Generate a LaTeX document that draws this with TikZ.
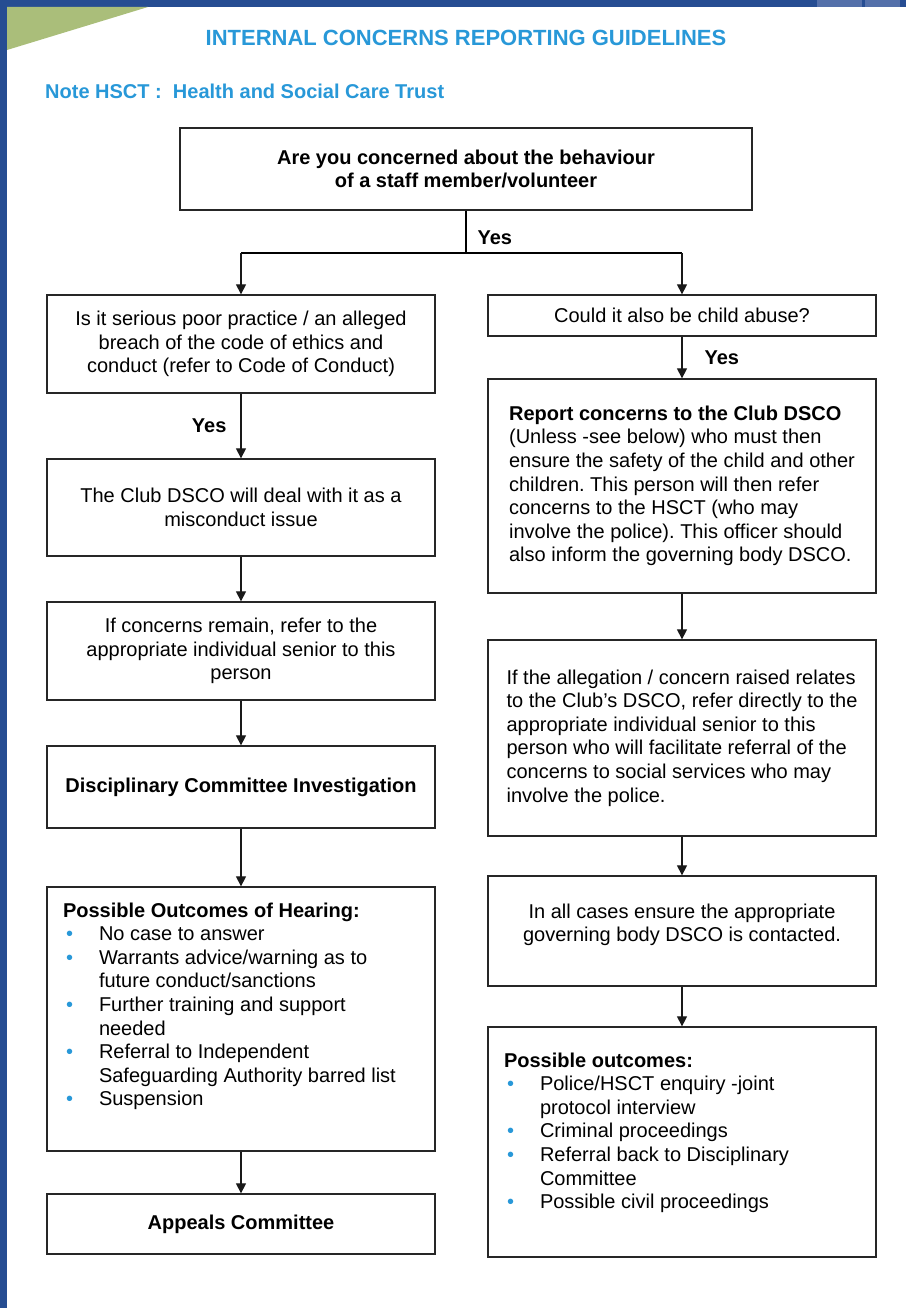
\documentclass[tikz,border=0pt]{standalone}
\usepackage{fontspec}
\setmainfont{Liberation Sans}
\usetikzlibrary{arrows.meta, positioning}

\definecolor{frameblue}{RGB}{38,77,146}
\definecolor{tabblue}{RGB}{84,112,170}
\definecolor{titleblue}{RGB}{40,152,216}
\definecolor{leafgreen}{RGB}{170,190,122}

\newcommand{\bul}{\makebox[36pt][l]{\hspace{3pt}\textcolor{titleblue}{\textbullet}}}
\newcommand{\ind}{\hspace*{36pt}}
\frenchspacing

\tikzset{
  box/.style={draw=black!85, line width=1.3pt, inner xsep=16pt, inner ysep=4pt,
    font=\fontsize{20}{23.6}\selectfont},
  boldbox/.style={box, font=\fontsize{20}{23.6}\selectfont\bfseries},
  arr/.style={draw=black!90, line width=1.2pt, -{Triangle[width=10pt,length=10pt]}},
  yes/.style={font=\fontsize{20}{24}\selectfont\bfseries, inner sep=0pt}
}

\begin{document}
\begin{tikzpicture}[x=1pt, y=-1pt]
    \useasboundingbox (0,0) rectangle (906,1308);
    % Page frame
    \fill[frameblue] (0,0) rectangle (906,7);
    \fill[frameblue] (0,0) rectangle (7,1308);
    \fill[tabblue] (817,0) rectangle (862,7);
    \fill[tabblue] (865,0) rectangle (900,7);
    \fill[leafgreen] (7,7) -- (148,7) -- (7,50) -- cycle;
    % Headings
    \node[font=\fontsize{22}{26}\selectfont\bfseries, text=titleblue] (title) at (466,38) {INTERNAL CONCERNS REPORTING GUIDELINES};
    \node[font=\fontsize{20}{24}\selectfont\bfseries, text=titleblue, anchor=west, inner sep=0pt] (note) at (45,91) {Note HSCT :\ \ Health and Social Care Trust};
    % Define nodes
    \node[boldbox, minimum width=572pt, minimum height=82pt, align=center] (ask) at (466,169) {Are you concerned about the behaviour\\of a staff member/volunteer};
    \coordinate[below=43pt of ask] (split);
    \coordinate (splitl) at (241,253);
    \coordinate (splitr) at (682,253);
    % left column
    \node[box, minimum width=388pt, minimum height=98pt, align=center] (serious) at (241,344) {Is it serious poor practice / an alleged\\breach of the code of ethics and\\conduct (refer to Code of Conduct)};
    \node[box, minimum width=388pt, minimum height=97pt, align=center] (misconduct) at (241,507.5) {The Club DSCO will deal with it as a\\misconduct issue};
    \node[box, minimum width=388pt, minimum height=98pt, align=center] (senior) at (241,651) {If concerns remain, refer to the\\appropriate individual senior to this\\person};
    \node[boldbox, minimum width=388pt, minimum height=82pt] (investigation) at (241,787) {Disciplinary Committee Investigation};
    \node[box, minimum width=388pt, minimum height=264pt] (hearing) at (241,1019) {\parbox[t][256pt][t]{356pt}{\rule{0pt}{26pt}\textbf{Possible Outcomes of Hearing:}\\
      \bul No case to answer\\
      \bul Warrants advice/warning as to\\
      \ind future conduct/sanctions\\
      \bul Further training and support\\
      \ind needed\\
      \bul Referral to Independent\\
      \ind Safeguarding Authority barred list\\
      \bul Suspension}};
    \node[boldbox, minimum width=388pt, minimum height=60pt] (appeals) at (241,1224) {Appeals Committee};
    % right column
    \node[box, minimum width=388pt, minimum height=41pt] (abuse) at (682,315.5) {Could it also be child abuse?};
    \node[box, minimum width=388pt, minimum height=214pt, align=left] (report) at (682,486) {\textbf{Report concerns to the Club DSCO}\\(Unless -see below) who must then\\ensure the safety of the child and other\\children. This person will then refer\\concerns to the HSCT (who may\\involve the police). This officer should\\also inform the governing body DSCO.};
    \node[box, minimum width=388pt, minimum height=196pt, align=left] (allegation) at (682,738) {If the allegation / concern raised relates\\to the Club’s DSCO, refer directly to the\\appropriate individual senior to this\\person who will facilitate referral of the\\concerns to social services who may\\involve the police.};
    \node[box, minimum width=388pt, minimum height=110pt] (governing) at (682,931) {\parbox[t][102pt][t]{356pt}{\centering\rule{0pt}{38pt}In all cases ensure the appropriate\\governing body DSCO is contacted.}};
    \node[box, minimum width=388pt, minimum height=230pt] (outcomes) at (682,1142) {\parbox[t][222pt][t]{356pt}{\rule{0pt}{36pt}\textbf{Possible outcomes:}\\
      \bul Police/HSCT enquiry -joint\\
      \ind protocol interview\\
      \bul Criminal proceedings\\
      \bul Referral back to Disciplinary\\
      \ind Committee\\
      \bul Possible civil proceedings}};
    % Draw edges
    \draw[line width=1.2pt] (ask) -- node[yes, right=11pt, pos=0.63] {Yes} (split);
    \draw[line width=1.2pt] (splitl) -- (splitr);
    \draw[arr] (splitl) -- (serious);
    \draw[arr] (splitr) -- (abuse);
    \draw[arr] (serious) -- node[yes, left=14pt] {Yes} (misconduct);
    \draw[arr] (misconduct) -- (senior);
    \draw[arr] (senior) -- (investigation);
    \draw[arr] (investigation) -- (hearing);
    \draw[arr] (hearing) -- (appeals);
    \draw[arr] (abuse) -- node[yes, right=22pt] {Yes} (report);
    \draw[arr] (report) -- (allegation);
    \draw[arr] (allegation) -- (governing);
    \draw[arr] (governing) -- (outcomes);
\end{tikzpicture}
\end{document}
